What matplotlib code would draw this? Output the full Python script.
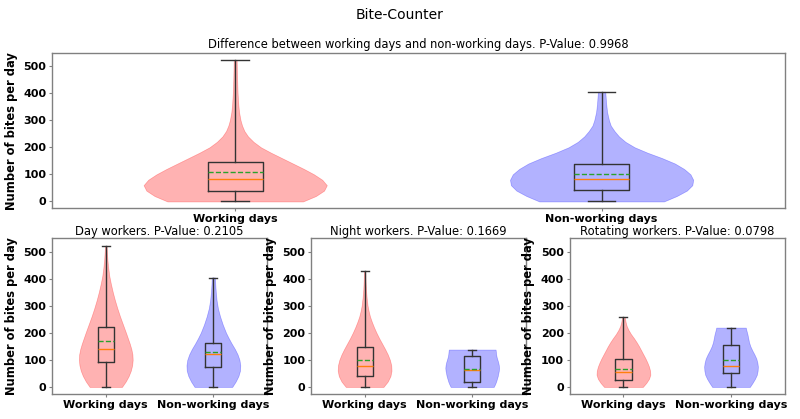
import matplotlib
matplotlib.use('Agg')
import matplotlib.pyplot as plt

# violin shapes: y values and relative half-widths, box stats as
# [min, q1, median, mean, q3, max]
top_work_y = [0, 20, 40, 60, 80, 100, 120, 140, 160, 180, 200, 220, 240, 260, 280, 300,
              330, 360, 400, 450, 490, 522]
top_work_w = [0.74, 0.88, 0.97, 1.0, 0.95, 0.86, 0.75, 0.63, 0.51, 0.39, 0.28, 0.2, 0.14,
              0.1, 0.075, 0.058, 0.042, 0.033, 0.026, 0.021, 0.018, 0.016]
top_work_box = [0, 38, 84, 107, 144, 522]

top_free_y = [0, 20, 40, 60, 80, 100, 120, 140, 160, 180, 200, 220, 240, 260, 280, 300,
              330, 360, 405]
top_free_w = [0.68, 0.82, 0.93, 0.99, 1.0, 0.97, 0.9, 0.8, 0.66, 0.5, 0.36, 0.26, 0.19,
              0.14, 0.1, 0.08, 0.06, 0.05, 0.04]
top_free_box = [0, 43, 82, 100, 138, 405]

day_work_y = [0, 20, 40, 60, 80, 100, 120, 140, 160, 180, 200, 230, 260, 290, 320, 350,
              380, 410, 440, 470, 500, 521]
day_work_w = [0.6, 0.74, 0.85, 0.93, 0.98, 1.0, 0.99, 0.95, 0.89, 0.82, 0.75, 0.64, 0.53,
              0.43, 0.34, 0.26, 0.19, 0.13, 0.09, 0.06, 0.04, 0.03]
day_work_box = [0, 93, 141, 169, 221, 521]

day_free_y = [0, 20, 40, 60, 80, 100, 120, 140, 160, 180, 200, 230, 260, 290, 320, 350,
              380, 404]
day_free_w = [0.7, 0.83, 0.93, 0.99, 1.0, 0.97, 0.9, 0.8, 0.68, 0.57, 0.47, 0.35, 0.25,
              0.17, 0.12, 0.09, 0.07, 0.06]
day_free_box = [0, 74, 120, 130, 163, 404]

night_work_y = [0, 20, 40, 60, 80, 100, 120, 140, 160, 180, 200, 220, 240, 260, 280, 300,
                330, 360, 390, 428]
night_work_w = [0.7, 0.86, 0.96, 1.0, 0.99, 0.94, 0.86, 0.76, 0.65, 0.54, 0.44, 0.35, 0.27,
                0.2, 0.15, 0.11, 0.075, 0.05, 0.035, 0.025]
night_work_box = [0, 40, 77, 99, 146, 428]

night_free_y = [0, 10, 20, 30, 40, 50, 60, 70, 80, 90, 100, 110, 120, 130, 138]
night_free_w = [0.8, 0.85, 0.89, 0.92, 0.95, 0.97, 0.99, 1.0, 0.99, 0.97, 0.94, 0.91, 0.89,
                0.88, 0.87]
night_free_box = [0, 18, 64, 67, 114, 138]

rot_work_y = [0, 15, 30, 45, 60, 75, 90, 105, 120, 135, 150, 165, 180, 195, 210, 225, 240, 258]
rot_work_w = [0.72, 0.85, 0.95, 1.0, 0.99, 0.95, 0.89, 0.82, 0.74, 0.66, 0.58, 0.49, 0.39,
              0.28, 0.19, 0.12, 0.08, 0.05]
rot_work_box = [0, 25, 54, 67, 105, 258]

rot_free_y = [0, 15, 30, 45, 60, 75, 90, 105, 120, 135, 150, 165, 180, 195, 210, 219]
rot_free_w = [0.7, 0.8, 0.89, 0.96, 0.99, 1.0, 0.98, 0.94, 0.87, 0.79, 0.72, 0.67, 0.64,
              0.61, 0.57, 0.55]
rot_free_box = [0, 52, 77, 98, 153, 219]

labels = ['Working days', 'Non-working days']
titles = ['Difference between working days and non-working days. P-Value: 0.9968',
          'Day workers. P-Value: 0.2105',
          'Night workers. P-Value: 0.1669',
          'Rotating workers. P-Value: 0.0798']


def make_stats(ys, ws, box, label):
    lo, q1, med, mean, q3, hi = box
    vstat = {'coords': ys, 'vals': ws, 'mean': mean, 'median': med,
             'min': lo, 'max': hi, 'quantiles': []}
    bstat = {'whislo': lo, 'q1': q1, 'med': med, 'mean': mean, 'q3': q3,
             'whishi': hi, 'fliers': [], 'label': label}
    return vstat, bstat


def draw_panel(ax, work, free, title, tpad):
    v1, b1 = make_stats(*work, labels[0])
    v2, b2 = make_stats(*free, labels[1])
    parts = ax.violin([v1, v2], positions=[1, 2], widths=0.5,
                      showmeans=False, showextrema=False, showmedians=False)
    for body, c in zip(parts['bodies'], ['red', 'blue']):
        body.set_facecolor(c)
        body.set_edgecolor(c)
        body.set_alpha(0.3)
        body.set_linewidth(0.5)
    ax.bxp([b1, b2], positions=[1, 2], widths=0.15, showmeans=True,
           meanline=True, showfliers=False,
           boxprops=dict(color='#333333', linewidth=1),
           whiskerprops=dict(color='#333333', linewidth=1),
           capprops=dict(color='#333333', linewidth=1),
           medianprops=dict(color='C1', linewidth=1),
           meanprops=dict(color='C2', linestyle='--', linewidth=1))
    ax.set_xlim(0.5, 2.5)
    ax.set_title(title, fontsize=8.3, pad=tpad)
    ax.set_ylabel('Number of bites per day', fontsize=8.3, fontweight='bold')
    ax.tick_params(length=2, width=0.8, color='#808080', pad=2, labelsize=8)
    for lab in ax.get_xticklabels() + ax.get_yticklabels():
        lab.set_fontweight('bold')
    for sp in ax.spines.values():
        sp.set_color('#808080')
        sp.set_linewidth(1)


fig = plt.figure(figsize=(8, 4.19), dpi=100)
gs = fig.add_gridspec(2, 3, left=0.065, right=0.981, top=0.8735, bottom=0.0597,
                      wspace=0.203, hspace=0.193)
ax_top = fig.add_subplot(gs[0, :])
axes = [fig.add_subplot(gs[1, i], sharey=ax_top) for i in range(3)]

draw_panel(ax_top, (top_work_y, top_work_w, top_work_box),
           (top_free_y, top_free_w, top_free_box), titles[0], 3.5)
draw_panel(axes[0], (day_work_y, day_work_w, day_work_box),
           (day_free_y, day_free_w, day_free_box), titles[1], 2.5)
draw_panel(axes[1], (night_work_y, night_work_w, night_work_box),
           (night_free_y, night_free_w, night_free_box), titles[2], 2.5)
draw_panel(axes[2], (rot_work_y, rot_work_w, rot_work_box),
           (rot_free_y, rot_free_w, rot_free_box), titles[3], 2.5)

ax_top.set_ylim(-26, 548)
ax_top.set_yticks([0, 100, 200, 300, 400, 500])

fig.suptitle('Bite-Counter', fontsize=10, y=0.964, va='center')
fig.savefig('out.png', dpi=100)
